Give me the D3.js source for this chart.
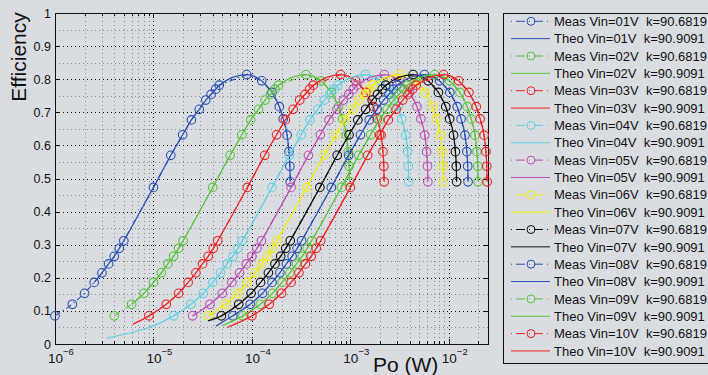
<!DOCTYPE html>
<html>
<head>
<meta charset="utf-8">
<script src="https://cdn.jsdelivr.net/npm/d3@7"></script>
<style>
  body { margin: 0; background: #d9dde2; }
  text { font-family: "Liberation Sans", Arial, Helvetica, sans-serif; fill: #111; }
</style>
</head>
<body>
<div id="chart"></div>
<script>
// ---- data (Po in microwatts) ----
const vinLabels = ['01', '02', '03', '04', '05', '06', '07', '08', '09', '10'];
const colors = ['#2b50b4', '#5cc23a', '#f02222', '#62d0e0', '#c04fb2', '#f2f000', '#111111', '#2b50b4', '#5cc23a', '#f02222'];
const kMeas = 'k=90.6819';
const kTheo = 'k=90.9091';

const measEff = [0.085, 0.120, 0.153, 0.186, 0.215, 0.242, 0.265, 0.289, 0.312, 0.473, 0.570, 0.632, 0.677,
  0.709, 0.737, 0.754, 0.770, 0.782, 0.814, 0.795, 0.760, 0.717, 0.680, 0.631, 0.581, 0.537, 0.490];

const po01 = [1, 1.5, 2, 2.5, 3, 3.5, 4, 4.5, 5, 10, 15, 19.8, 24.3, 29.2, 34, 38.5, 42.9, 46.6, 88.5, 126, 160, 190, 208, 228, 238, 243, 245];
const po02 = [4, 6, 8, 10, 12, 14, 16, 18, 20, 40, 60, 79.2, 97.2, 116.8, 136, 154, 171.6, 186.4, 354, 504, 640, 760, 832, 912, 952, 972, 980];
const po03 = [9, 13.5, 18, 22.5, 27, 31.5, 36, 40.5, 45, 90, 135, 178.2, 218.7, 262.8, 306, 346.5, 386.1, 419.4, 796.5, 1134, 1440, 1710, 1872, 2052, 2142, 2187, 2205];
const po04 = [16, 24, 32, 40, 48, 56, 64, 72, 80, 160, 240, 316.8, 388.8, 467.2, 544, 616, 686.4, 745.6, 1416, 2016, 2560, 3040, 3328, 3648, 3808, 3888, 3920];
const po05 = [25, 37.5, 50, 62.5, 75, 87.5, 100, 112.5, 125, 250, 375, 495, 607.5, 730, 850, 962.5, 1072.5, 1165, 2212.5, 3150, 4000, 4750, 5200, 5700, 5950, 6075, 6125];
const po06 = [36, 54, 72, 90, 108, 126, 144, 162, 180, 360, 540, 712.8, 874.8, 1051.2, 1224, 1386, 1544.4, 1677.6, 3186, 4536, 5760, 6840, 7488, 8208, 8568, 8748, 8820];
const po07 = [49, 73.5, 98, 122.5, 147, 171.5, 196, 220.5, 245, 490, 735, 970.2, 1190.7, 1430.8, 1666, 1886.5, 2102.1, 2283.4, 4336.5, 6174, 7840, 9310, 10192, 11172, 11662, 11907, 12005];
const po08 = [64, 96, 128, 160, 192, 224, 256, 288, 320, 640, 960, 1267.2, 1555.2, 1868.8, 2176, 2464, 2745.6, 2982.4, 5664, 8064, 10240, 12160, 13312, 14592, 15232, 15552, 15680];
const po09 = [81, 121.5, 162, 202.5, 243, 283.5, 324, 364.5, 405, 810, 1215, 1603.8, 1968.3, 2365.2, 2754, 3118.5, 3474.9, 3774.6, 7168.5, 10206, 12960, 15390, 16848, 18468, 19278, 19683, 19845];
const po10 = [100, 150, 200, 250, 300, 350, 400, 450, 500, 1000, 1500, 1980, 2430, 2920, 3400, 3850, 4290, 4660, 8850, 12600, 16000, 19000, 20800, 22800, 23800, 24300, 24500];
const measPo = [po01, po02, po03, po04, po05, po06, po07, po08, po09, po10];

// where each theoretical curve starts (then it follows the measured points)
const theoStartPo = [2.5, 6, 6.2, 3.37, 25, 36, 35.8, 43.2, 49.7, 55.9];
const theoStartEff = [0.186, 0.12, 0.06, 0.018, 0.085, 0.085, 0.07, 0.054, 0.055, 0.05];

const yTicks = [0, 0.1, 0.2, 0.3, 0.4, 0.5, 0.6, 0.7, 0.8, 0.9, 1];
const yTickLabels = ['0', '0.1', '0.2', '0.3', '0.4', '0.5', '0.6', '0.7', '0.8', '0.9', '1'];
const yMinor = [0.05, 0.15, 0.25, 0.35, 0.45, 0.55, 0.65, 0.75, 0.85, 0.95];
const xExps = [-6, -5, -4, -3, -2];

const uW = 1e-6;
const width = 708, height = 375;

const svg = d3.select('#chart').append('svg')
  .attr('width', width)
  .attr('height', height);

svg.append('rect').attr('width', width).attr('height', height).attr('fill', '#d9dde2');

const xScale = d3.scaleLog().domain([1e-6, 0.025]).range([55, 488]);
const yScale = d3.scaleLinear().domain([0, 1]).range([344, 13]);
const [x0, x1] = xScale.range();
const [y0, y1] = yScale.range();

// minor x positions 2..9 per decade
const xMinor = [];
xExps.forEach(e => {
  for (let m = 2; m <= 9; m++) {
    const v = m * Math.pow(10, e);
    if (v < xScale.domain()[1]) xMinor.push(v);
  }
});
const xMajor = xExps.map(e => Math.pow(10, e));

// grid
const grid = svg.append('g').attr('class', 'grid');
grid.selectAll('.vminor').data(xMinor).enter().append('line')
  .attr('x1', d => Math.round(xScale(d)) + 0.5).attr('x2', d => Math.round(xScale(d)) + 0.5)
  .attr('y1', y1).attr('y2', y0)
  .attr('stroke', '#8a8d92').attr('stroke-dasharray', '1,3');
grid.selectAll('.hminor').data(yMinor).enter().append('line')
  .attr('x1', x0).attr('x2', x1)
  .attr('y1', d => Math.round(yScale(d)) + 0.5).attr('y2', d => Math.round(yScale(d)) + 0.5)
  .attr('stroke', '#8a8d92').attr('stroke-dasharray', '1,3');
grid.selectAll('.vmajor').data(xMajor.slice(1)).enter().append('line')
  .attr('x1', d => Math.round(xScale(d)) + 0.5).attr('x2', d => Math.round(xScale(d)) + 0.5)
  .attr('y1', y1).attr('y2', y0)
  .attr('stroke', '#111').attr('stroke-dasharray', '1,3');
grid.selectAll('.hmajor').data(yTicks.slice(1, -1)).enter().append('line')
  .attr('x1', x0).attr('x2', x1)
  .attr('y1', d => Math.round(yScale(d)) + 0.5).attr('y2', d => Math.round(yScale(d)) + 0.5)
  .attr('stroke', '#111').attr('stroke-dasharray', '1,3');

// axes (ticks inside, box around plot)
const ax = svg.append('g').attr('stroke', '#111').attr('stroke-width', 1);
ax.append('rect').attr('x', x0 + 0.5).attr('y', y1 + 0.5)
  .attr('width', x1 - x0).attr('height', y0 - y1).attr('fill', 'none');
xMajor.forEach(v => {
  const px = Math.round(xScale(v)) + 0.5;
  ax.append('line').attr('x1', px).attr('x2', px).attr('y1', y0).attr('y2', y0 - 5);
  ax.append('line').attr('x1', px).attr('x2', px).attr('y1', y1).attr('y2', y1 + 5);
});
xMinor.forEach(v => {
  const px = Math.round(xScale(v)) + 0.5;
  ax.append('line').attr('x1', px).attr('x2', px).attr('y1', y0).attr('y2', y0 - 3);
  ax.append('line').attr('x1', px).attr('x2', px).attr('y1', y1).attr('y2', y1 + 3);
});
yTicks.forEach(v => {
  const py = Math.round(yScale(v)) + 0.5;
  ax.append('line').attr('x1', x0).attr('x2', x0 + 5).attr('y1', py).attr('y2', py);
  ax.append('line').attr('x1', x1).attr('x2', x1 - 5).attr('y1', py).attr('y2', py);
});

// tick labels
svg.selectAll('.ylab').data(yTicks).enter().append('text')
  .attr('x', 51).attr('y', d => yScale(d)).attr('dy', '0.36em')
  .attr('text-anchor', 'end').attr('font-size', 12.5)
  .text((d, i) => yTickLabels[i]);
const xl = svg.selectAll('.xlab').data(xExps).enter().append('text')
  .attr('x', d => xScale(Math.pow(10, d)) - 7).attr('y', 363)
  .attr('font-size', 13.5);
xl.append('tspan').text('10');
xl.append('tspan').attr('dy', -8).attr('font-size', 9.5).text(d => '\u2212' + Math.abs(d));

// axis titles
svg.append('text').attr('transform', 'translate(26,57) rotate(-90)')
  .attr('text-anchor', 'middle').attr('font-size', 21).text('Efficiency');
svg.append('text').attr('x', 373).attr('y', 372)
  .attr('font-size', 21).text('Po (W)');

// series
const line = d3.line().x(d => xScale(d[0] * uW)).y(d => yScale(d[1]));
const smooth = d3.line().x(d => xScale(d[0] * uW)).y(d => yScale(d[1])).curve(d3.curveMonotoneX);
const plot = svg.append('g');

measPo.forEach((po, i) => {
  const meas = po.map((p, j) => [p, measEff[j]]);
  const theo = [[theoStartPo[i], theoStartEff[i]]].concat(meas.filter(d => d[0] > theoStartPo[i] * 1.0001));

  const g = plot.append('g');
  g.append('path').datum(meas)
    .attr('d', line).attr('fill', 'none')
    .attr('stroke', colors[i]).attr('stroke-width', 1.1)
    .attr('stroke-dasharray', '6,3,1.5,3');
  g.selectAll('circle').data(meas).enter().append('circle')
    .attr('cx', d => xScale(d[0] * uW)).attr('cy', d => yScale(d[1]))
    .attr('r', 4.3).attr('fill', 'none')
    .attr('stroke', colors[i]).attr('stroke-width', 1.1);
  g.append('path').datum(theo)
    .attr('d', smooth).attr('fill', 'none')
    .attr('stroke', colors[i]).attr('stroke-width', 1.2);
});

// legend
const leg = svg.append('g');
leg.append('rect').attr('x', 503.5).attr('y', 13.5).attr('width', 220).attr('height', 350)
  .attr('fill', '#d9dde2').attr('stroke', '#111');
vinLabels.forEach((v, i) => {
  const ym = 21.3 + (2 * i) * 17.35;
  const yt = ym + 17.35;
  leg.append('line').attr('x1', 511).attr('x2', 550).attr('y1', ym).attr('y2', ym)
    .attr('stroke', colors[i]).attr('stroke-dasharray', '1,4,9,4');
  leg.append('circle').attr('cx', 531).attr('cy', ym).attr('r', 4)
    .attr('fill', 'none').attr('stroke', colors[i]);
  leg.append('text').attr('x', 554).attr('y', ym).attr('dy', '0.36em').attr('font-size', 13)
    .attr('xml:space', 'preserve').text('Meas Vin=' + v + 'V  ' + kMeas);
  leg.append('line').attr('x1', 511).attr('x2', 550).attr('y1', yt).attr('y2', yt)
    .attr('stroke', colors[i]);
  leg.append('text').attr('x', 554).attr('y', yt).attr('dy', '0.36em').attr('font-size', 13)
    .attr('xml:space', 'preserve').text('Theo Vin=' + v + 'V  ' + kTheo);
});
</script>
</body>
</html>
